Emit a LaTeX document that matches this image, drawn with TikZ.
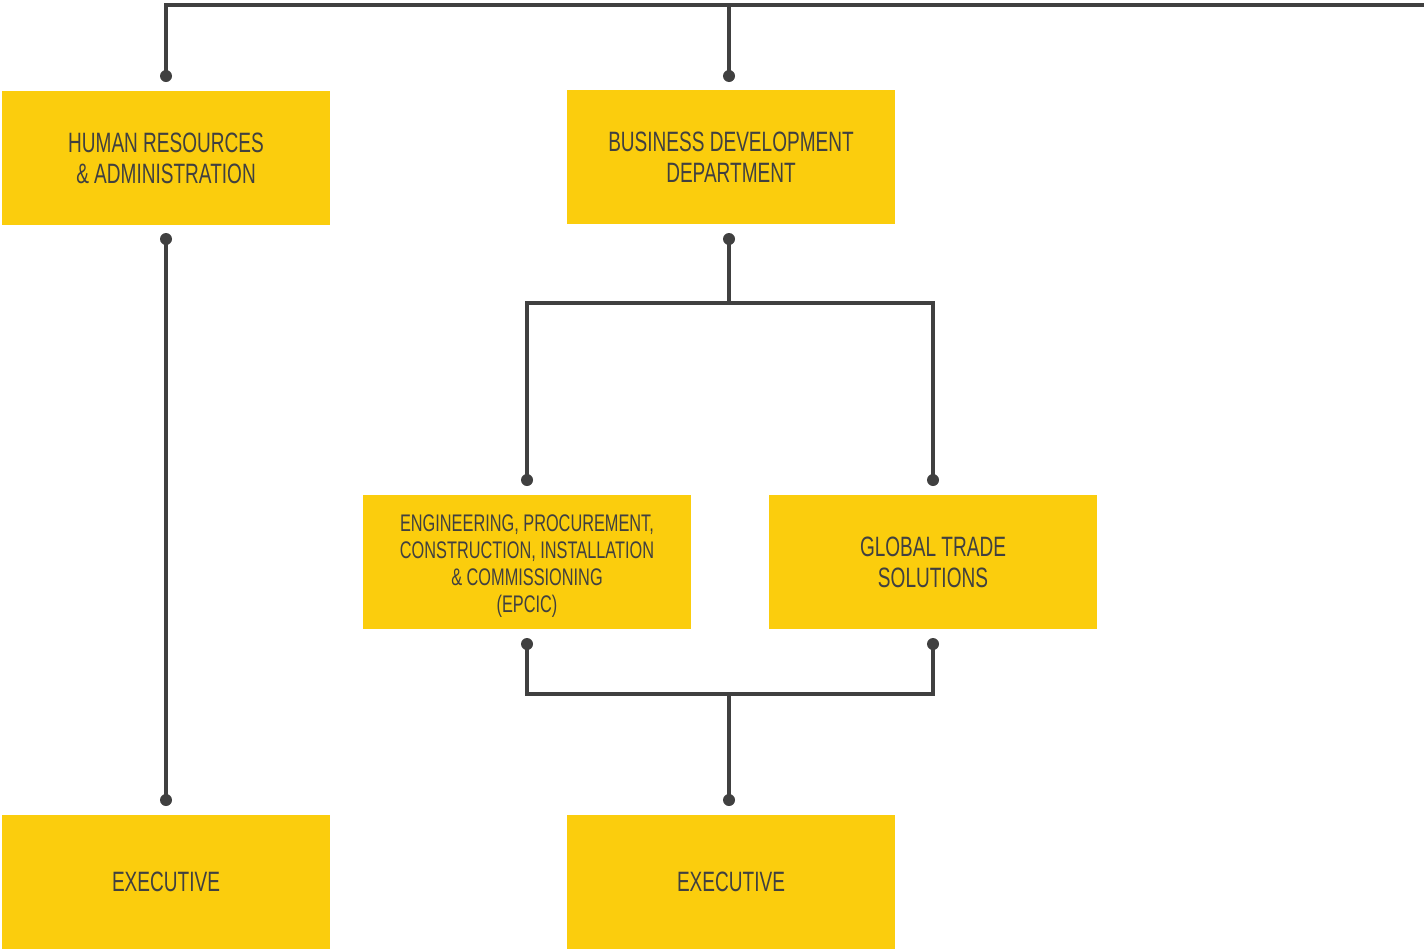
\documentclass[tikz,border=0pt]{standalone}
\usepackage{fontspec}
\setmainfont{Liberation Sans}[FakeStretch=0.68]
\definecolor{unityellow}{HTML}{FBCD0D}
\definecolor{linegray}{HTML}{404040}
\begin{document}
\begin{tikzpicture}
	[
	x=0.5pt, y=-0.5pt,
	unit/.style={fill = unityellow, shape = rectangle, minimum width = 164pt, minimum height = 67pt, inner sep = 0pt, align = center, text = linegray, font = \fontsize{14}{15.5}\selectfont},
	smalltext/.style={font = \fontsize{12}{13.5}\selectfont},
	dot/.style={fill = linegray, shape = circle, minimum size = 6pt, inner sep = 0pt},
	link/.style={draw = linegray, line width = 2pt, line join = miter}
	]
	\useasboundingbox (0,0) rectangle (1424,948);
	
	% Boxes
	\node[unit](hr) at (166,158){HUMAN RESOURCES\\\& ADMINISTRATION};
	\node[unit](bd) at (731,157){BUSINESS DEVELOPMENT\\DEPARTMENT};
	\node[unit, smalltext](epcic) at (527,562){\rule{0pt}{12.6pt}ENGINEERING, PROCUREMENT,\\CONSTRUCTION, INSTALLATION\\\& COMMISSIONING\\(EPCIC)};
	\node[unit](gts) at (933,562){GLOBAL TRADE\\SOLUTIONS};
	\node[unit](ex1) at (166,882){EXECUTIVE};
	\node[unit](ex2) at (731,882){EXECUTIVE};
	
	% Dots
	\node[dot](hrin) at (166,76){};
	\node[dot](bdin) at (729,76){};
	\node[dot](hrout) at (166,239){};
	\node[dot](ex1in) at (166,800){};
	\node[dot](bdout) at (729,239){};
	\node[dot](epcicin) at (527,480){};
	\node[dot](gtsin) at (933,480){};
	\node[dot](epcicout) at (527,644){};
	\node[dot](gtsout) at (933,644){};
	\node[dot](ex2in) at (729,800){};
	
	\coordinate (topright) at (1424,5);
	\coordinate (bdsplit) at (729,303);
	\coordinate (exjoin) at (729,694);
	
	\draw[link] (hrin.center) |- (topright);
	\draw[link] (bdin.center) -- (bdin.center |- topright);
	
	\draw[link] (hrout.center) -- (ex1in.center);
	
	\draw[link] (bdout.center) -- (bdsplit);
	\draw[link] (epcicin.center) |- (bdsplit) -| (gtsin.center);
	
	\draw[link] (epcicout.center) |- (exjoin) -| (gtsout.center);
	\draw[link] (exjoin) -- (ex2in.center);
\end{tikzpicture}
\end{document}
